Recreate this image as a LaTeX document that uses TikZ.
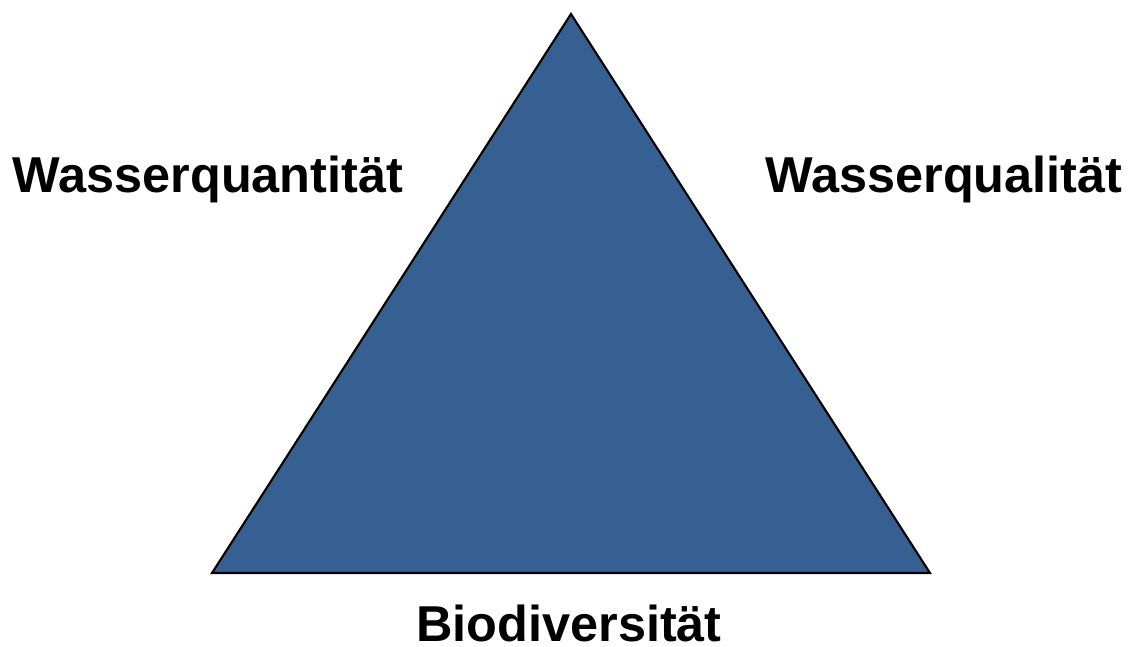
\documentclass[tikz,border=0pt]{standalone}
\usepackage{fontspec}
\setmainfont{Liberation Sans}
\usepackage{xcolor}
\usetikzlibrary{positioning}
\definecolor{triblue}{RGB}{54,96,146}
\tikzset{
  x=0.02cm, y=-0.02cm,
  label/.style    = {font=\fontsize{28.7}{34}\selectfont\bfseries, inner sep=0pt, anchor=base},
  triangle/.style = {fill=triblue, draw=black, line width=1.2pt, line join=miter}
}
\begin{document}
\begin{tikzpicture}
  \useasboundingbox (0,0) rectangle (1133,646);
  % corners of the triangle
  \coordinate (top)   at (571,14);
  \coordinate (left)  at (212,573);
  \coordinate (right) at (930,573);
  \draw[triangle] (top) -- (left) -- (right) -- cycle;
  \node[label] (quantity)  at (208,192) {Wasserquantität};
  \node[label] (quality)   at (944,192) {Wasserqualität};
  \node[label] (diversity) at (569,641) {Biodiversität};
\end{tikzpicture}
\end{document}
